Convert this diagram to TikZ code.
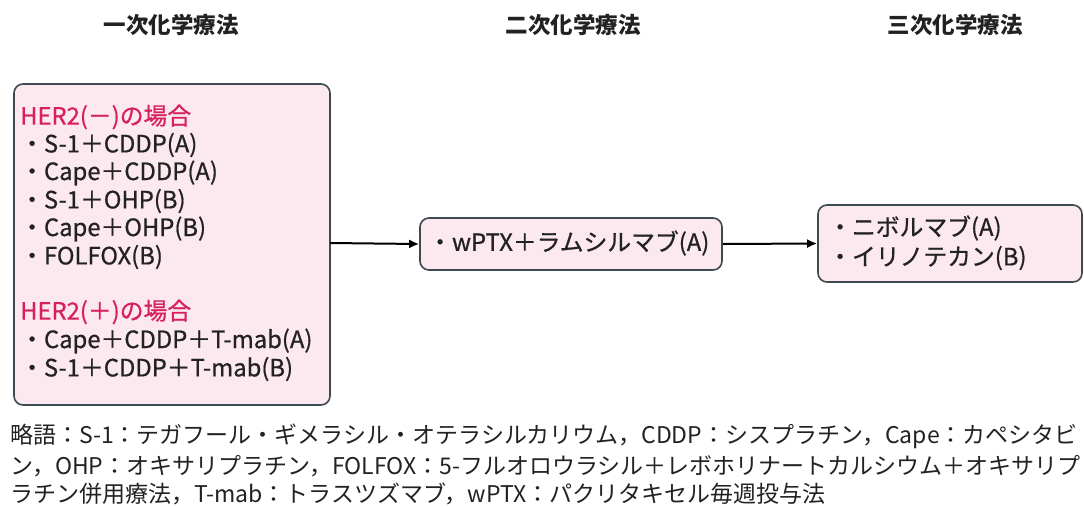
\documentclass[tikz,border=0pt]{standalone}
\usepackage{fontspec}
\setmainfont{Noto Sans CJK JP}
\newfontfamily\jpmed{Noto Sans CJK JP}[FakeBold=0.7]
\usetikzlibrary{arrows.meta}
\definecolor{boxfill}{HTML}{FBE9EF}
\definecolor{boxline}{HTML}{3E4A52}
\definecolor{herred}{HTML}{D8205C}
\definecolor{txt}{HTML}{222222}
\tikzset{
  box/.style={draw=boxline, fill=boxfill, line width=1.6pt, rounded corners=9pt},
  head/.style={font=\fontsize{22.5}{26}\selectfont\bfseries, text=txt, inner sep=0pt},
  item/.style={font=\jpmed\fontsize{23.8}{28}\selectfont, text=txt, anchor=west, inner sep=0pt},
  her/.style={item, text=herred},
  note/.style={font=\fontsize{23}{28}\selectfont, text=txt, anchor=west, inner sep=0pt},
  conn/.style={line width=2pt, -{Latex[length=10pt,width=9pt]}, draw=black}
}
\begin{document}
\begin{tikzpicture}[x=1pt,y=1pt]
\useasboundingbox (0,0) rectangle (1084,-507);
% headers
\node[head] (h1) at (171,-25) {一次化学療法};
\node[head] (h2) at (573,-25) {二次化学療法};
\node[head] (h3) at (955,-25) {三次化学療法};
% boxes
\draw[box] (14,-84) rectangle (330,-405);
\coordinate (b1e) at (330,-243);
\node[box, minimum width=302pt, minimum height=52pt, inner sep=0pt] (b2) at (571,-244) {};
\node[box, minimum width=264pt, minimum height=77pt, inner sep=0pt] (b3) at (950,-243.5) {};
% box1 text
\node[her] (t0) at (20,-117) {HER2(－)の場合};
\node[item] (t1) at (20,-145) {・S-1＋CDDP(A)};
\node[item] (t2) at (20,-173) {・Cape＋CDDP(A)};
\node[item] (t3) at (20,-201) {・S-1＋OHP(B)};
\node[item] (t4) at (20,-229) {・Cape＋OHP(B)};
\node[item] (t5) at (20,-257) {・FOLFOX(B)};
\node[her] (t6) at (20,-312) {HER2(＋)の場合};
\node[item] (t7) at (20,-341) {・Cape＋CDDP＋T-mab(A)};
\node[item] (t8) at (20,-369) {・S-1＋CDDP＋T-mab(B)};
% box2/3 text
\node[item] (u1) at (428,-243) {・wPTX＋ラムシルマブ(A)};
\node[item] (v1) at (828,-228) {・ニボルマブ(A)};
\node[item] (v2) at (828,-258) {・イリノテカン(B)};
% connectors
\draw[conn] (b1e) -- (b2.west);
\draw[conn] (b2.east) -- (b3.west);
% footnote
\node[note] (n1) at (10,-436) {略語：S-1：テガフール・ギメラシル・オテラシルカリウム，CDDP：シスプラチン，Cape：カペシタビ};
\node[note] (n2) at (10,-466) {ン，OHP：オキサリプラチン，FOLFOX：5-フルオロウラシル＋レボホリナートカルシウム＋オキサリプ};
\node[note] (n3) at (10,-494) {ラチン併用療法，T-mab：トラスツズマブ，wPTX：パクリタキセル毎週投与法};
\end{tikzpicture}
\end{document}
